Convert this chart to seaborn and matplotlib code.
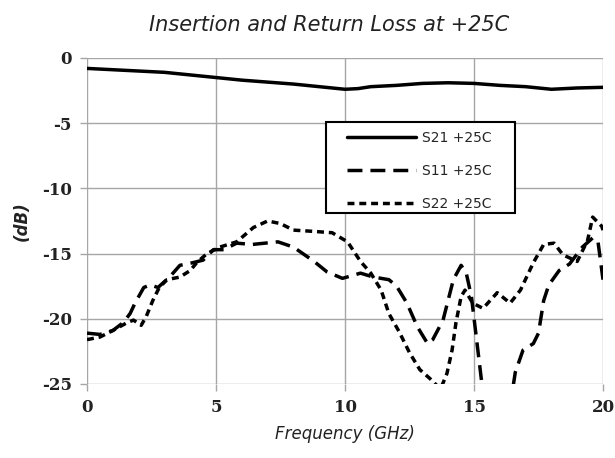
import numpy as np
import pandas as pd
import matplotlib
matplotlib.use("Agg")
import matplotlib.pyplot as plt
from matplotlib.patches import Rectangle
import seaborn as sns

# ---- data ----
s21_freq = [0, 1, 2, 3, 4, 5, 6, 7, 8, 9, 10, 10.5, 11, 12, 13, 14, 15, 16, 17, 18, 19, 20]
s21_db = [-0.8, -0.9, -1.0, -1.1, -1.3, -1.5, -1.7, -1.85, -2.0, -2.2, -2.4, -2.35, -2.2,
          -2.1, -1.95, -1.9, -1.95, -2.1, -2.2, -2.4, -2.3, -2.25]

s11_freq = [0, 0.5, 1.0, 1.4, 1.67, 1.86, 2.2, 2.45, 2.75, 3.2, 3.6, 4.1, 4.5, 4.9, 5.3, 5.8,
            6.4, 7.4, 8.0, 8.8, 9.3, 9.9, 10.6, 11.1, 11.7, 12.0, 12.4, 12.8, 13.2, 13.4, 13.8,
            14.2, 14.5, 14.7, 14.9, 15.1, 15.3, 15.6, 16.3, 16.6, 16.9, 17.3, 17.5, 17.7, 17.9,
            18.3, 18.7, 19.2, 19.6, 19.8, 20.0]
s11_db = [-21.1, -21.2, -20.9, -20.3, -19.6, -18.8, -17.6, -17.4, -17.6, -16.8, -15.9, -15.7,
          -15.5, -14.7, -14.7, -14.2, -14.3, -14.1, -14.5, -15.6, -16.4, -16.9, -16.5, -16.8,
          -17.0, -17.5, -18.8, -20.6, -21.9, -21.6, -20.1, -17.0, -15.9, -16.5, -18.3, -21.6,
          -24.9, -28.0, -28.0, -24.1, -22.4, -21.9, -21.1, -18.6, -17.4, -16.3, -15.8, -14.5,
          -13.8, -14.0, -17.0]

s22_freq = [0, 0.5, 1.0, 1.55, 1.8, 2.1, 2.3, 2.55, 2.8, 3.1, 3.6, 4.0, 4.25, 4.65, 5.15, 5.8,
            6.45, 7.0, 7.5, 8.0, 8.8, 9.5, 10.1, 10.6, 11.0, 11.4, 11.7, 12.1, 12.5, 12.9, 13.3,
            13.7, 13.95, 14.15, 14.3, 14.5, 14.65, 14.95, 15.35, 15.9, 16.4, 16.8, 17.3, 17.7,
            18.1, 18.45, 19.0, 19.4, 19.6, 19.95, 20.0]
s22_db = [-21.6, -21.4, -20.9, -20.3, -20.1, -20.5, -19.8, -18.6, -17.6, -17.0, -16.8, -16.3,
          -15.7, -15.0, -14.5, -14.1, -13.0, -12.5, -12.7, -13.2, -13.3, -13.4, -14.1, -15.6,
          -16.5, -17.8, -19.6, -21.0, -22.6, -23.9, -24.6, -25.4, -24.2, -22.4, -20.3, -18.3,
          -17.8, -18.8, -19.2, -18.0, -18.8, -17.8, -15.7, -14.3, -14.2, -15.1, -15.6, -14.0,
          -12.2, -12.9, -13.2]

labels = ["S21 +25C", "S11 +25C", "S22 +25C"]
x_ticks = [0, 5, 10, 15, 20]
y_ticks = [0, -5, -10, -15, -20, -25]

df = pd.concat([
    pd.DataFrame({"freq": s21_freq, "db": s21_db, "trace": labels[0]}),
    pd.DataFrame({"freq": s11_freq, "db": s11_db, "trace": labels[1]}),
    pd.DataFrame({"freq": s22_freq, "db": s22_db, "trace": labels[2]}),
], ignore_index=True)

sns.set_theme(style="white")
plt.rcParams["font.family"] = ["DejaVu Sans"]
plt.rcParams["axes.unicode_minus"] = False

fig = plt.figure(figsize=(6.15, 4.58), dpi=100)
ax = fig.add_axes([0.1415, 0.1616, 0.839, 0.7118])

LW = 2.5
sns.lineplot(data=df, x="freq", y="db", hue="trace", style="trace",
             palette=["black"] * 3,
             dashes={labels[0]: "", labels[1]: (4.3, 2.3), labels[2]: (2.0, 1.4)},
             linewidth=LW, sort=False, estimator=None, ax=ax, legend=True)

ax.set_xlim(0, 20)
ax.set_ylim(-25, 0)
ax.set_xticks(x_ticks)
ax.set_yticks(y_ticks)
ax.grid(True, color="#a6a6a6", linewidth=1.0)
ax.set_axisbelow(True)
for s in ax.spines.values():
    s.set_visible(False)
ax.tick_params(axis="both", which="both", direction="out", length=5, width=1,
               color="#a6a6a6", bottom=True, left=True, pad=6)
for lab in ax.get_xticklabels() + ax.get_yticklabels():
    lab.set_family("DejaVu Serif")
    lab.set_fontweight("bold")
    lab.set_fontsize(12)
    lab.set_color("#222222")

ax.set_xlabel("Frequency (GHz)", fontsize=12, style="italic", color="#222222", labelpad=6)
ax.set_ylabel("(dB)", fontsize=12, style="italic", fontweight="bold", color="#222222", labelpad=8)
fig.text(0.535, 0.945, "Insertion and Return Loss at +25C", ha="center", va="center",
         fontsize=15, style="italic", color="#222222")

# legend frame drawn as a separate box
box = Rectangle((0.463, 0.525), 0.366, 0.279, transform=ax.transAxes, facecolor="white",
                edgecolor="black", linewidth=1.5, zorder=5)
ax.add_patch(box)

leg = ax.legend(loc="upper left", bbox_to_anchor=(0.503, 0.776), frameon=False,
                handlelength=5.0, fontsize=10, labelspacing=1.35, borderpad=0,
                borderaxespad=0, handletextpad=0.4)
leg.set_zorder(6)
for line in leg.get_lines():
    line.set_linewidth(LW)

fig.savefig("out.png", dpi=100)
